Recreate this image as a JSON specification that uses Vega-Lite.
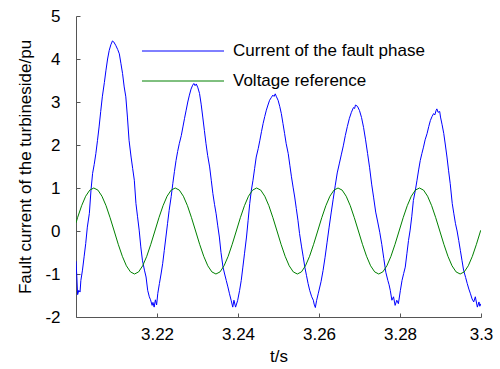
{
"$schema": "https://vega.github.io/schema/vega-lite/v6.json",
"width": 405, "height": 301,
"autosize": "none",
"padding": {"left": 76, "top": 16, "right": 19, "bottom": 52},
"background": "white",
"config": {"view": {"stroke": null}, "font": "Liberation Sans"},
"data": {"values": [
{"s":"C","t":3.2000,"v":-0.70},{"s":"C","t":3.2002,"v":-1.05},{"s":"C","t":3.2004,"v":-1.48},{"s":"C","t":3.2007,"v":-1.38},{"s":"C","t":3.2010,"v":-1.42},{"s":"C","t":3.2012,"v":-1.15},{"s":"C","t":3.2016,"v":-0.91},{"s":"C","t":3.2020,"v":-0.60},{"s":"C","t":3.2024,"v":-0.29},{"s":"C","t":3.2028,"v":0.09},{"s":"C","t":3.2033,"v":0.41},{"s":"C","t":3.2037,"v":0.95},{"s":"C","t":3.2041,"v":1.34},{"s":"C","t":3.2045,"v":1.55},{"s":"C","t":3.2049,"v":1.80},{"s":"C","t":3.2053,"v":2.10},{"s":"C","t":3.2057,"v":2.42},{"s":"C","t":3.2061,"v":2.78},{"s":"C","t":3.2065,"v":3.12},{"s":"C","t":3.2070,"v":3.45},{"s":"C","t":3.2074,"v":3.74},{"s":"C","t":3.2078,"v":4.00},{"s":"C","t":3.2082,"v":4.20},{"s":"C","t":3.2086,"v":4.33},{"s":"C","t":3.2090,"v":4.42},{"s":"C","t":3.2093,"v":4.40},
{"s":"C","t":3.2098,"v":4.32},{"s":"C","t":3.2103,"v":4.22},{"s":"C","t":3.2107,"v":4.12},{"s":"C","t":3.2111,"v":3.89},{"s":"C","t":3.2115,"v":3.66},{"s":"C","t":3.2119,"v":3.35},{"s":"C","t":3.2123,"v":3.12},{"s":"C","t":3.2127,"v":2.65},{"s":"C","t":3.2131,"v":2.11},{"s":"C","t":3.2136,"v":1.72},{"s":"C","t":3.2140,"v":1.45},{"s":"C","t":3.2144,"v":1.18},{"s":"C","t":3.2148,"v":0.64},{"s":"C","t":3.2152,"v":0.33},{"s":"C","t":3.2156,"v":0.02},{"s":"C","t":3.2160,"v":-0.37},{"s":"C","t":3.2164,"v":-0.68},{"s":"C","t":3.2169,"v":-0.91},{"s":"C","t":3.2173,"v":-1.07},{"s":"C","t":3.2177,"v":-1.38},{"s":"C","t":3.2181,"v":-1.53},{"s":"C","t":3.2184,"v":-1.60},{"s":"C","t":3.2188,"v":-1.73},{"s":"C","t":3.2190,"v":-1.66},{"s":"C","t":3.2193,"v":-1.77},{"s":"C","t":3.2196,"v":-1.60},{"s":"C","t":3.2199,"v":-1.72},{"s":"C","t":3.2202,"v":-1.45},
{"s":"C","t":3.2206,"v":-1.22},{"s":"C","t":3.2210,"v":-1.00},{"s":"C","t":3.2214,"v":-0.76},{"s":"C","t":3.2218,"v":-0.45},{"s":"C","t":3.2222,"v":-0.14},{"s":"C","t":3.2226,"v":0.17},{"s":"C","t":3.2230,"v":0.48},{"s":"C","t":3.2235,"v":0.80},{"s":"C","t":3.2239,"v":1.10},{"s":"C","t":3.2243,"v":1.38},{"s":"C","t":3.2247,"v":1.64},{"s":"C","t":3.2251,"v":1.85},{"s":"C","t":3.2255,"v":2.03},{"s":"C","t":3.2260,"v":2.22},{"s":"C","t":3.2264,"v":2.42},{"s":"C","t":3.2268,"v":2.62},{"s":"C","t":3.2272,"v":2.81},{"s":"C","t":3.2276,"v":3.00},{"s":"C","t":3.2280,"v":3.16},{"s":"C","t":3.2284,"v":3.30},{"s":"C","t":3.2288,"v":3.39},{"s":"C","t":3.2291,"v":3.43},{"s":"C","t":3.2294,"v":3.38},{"s":"C","t":3.2297,"v":3.42},{"s":"C","t":3.2301,"v":3.33},
{"s":"C","t":3.2305,"v":3.20},{"s":"C","t":3.2309,"v":2.95},{"s":"C","t":3.2313,"v":2.65},{"s":"C","t":3.2317,"v":2.34},{"s":"C","t":3.2321,"v":2.03},{"s":"C","t":3.2325,"v":1.76},{"s":"C","t":3.2330,"v":1.49},{"s":"C","t":3.2334,"v":1.18},{"s":"C","t":3.2338,"v":0.87},{"s":"C","t":3.2342,"v":0.62},{"s":"C","t":3.2346,"v":0.40},{"s":"C","t":3.2350,"v":0.12},{"s":"C","t":3.2354,"v":-0.14},{"s":"C","t":3.2358,"v":-0.50},{"s":"C","t":3.2363,"v":-0.84},{"s":"C","t":3.2367,"v":-1.00},{"s":"C","t":3.2371,"v":-1.15},{"s":"C","t":3.2375,"v":-1.30},{"s":"C","t":3.2379,"v":-1.46},{"s":"C","t":3.2383,"v":-1.61},{"s":"C","t":3.2387,"v":-1.77},{"s":"C","t":3.2390,"v":-1.61},{"s":"C","t":3.2394,"v":-1.77},{"s":"C","t":3.2399,"v":-1.62},
{"s":"C","t":3.2404,"v":-1.38},{"s":"C","t":3.2408,"v":-1.15},{"s":"C","t":3.2412,"v":-0.84},{"s":"C","t":3.2416,"v":-0.53},{"s":"C","t":3.2421,"v":-0.14},{"s":"C","t":3.2425,"v":0.25},{"s":"C","t":3.2429,"v":0.64},{"s":"C","t":3.2433,"v":0.95},{"s":"C","t":3.2437,"v":1.18},{"s":"C","t":3.2441,"v":1.45},{"s":"C","t":3.2445,"v":1.72},{"s":"C","t":3.2450,"v":1.92},{"s":"C","t":3.2454,"v":2.11},{"s":"C","t":3.2458,"v":2.31},{"s":"C","t":3.2462,"v":2.50},{"s":"C","t":3.2466,"v":2.66},{"s":"C","t":3.2470,"v":2.81},{"s":"C","t":3.2474,"v":2.93},{"s":"C","t":3.2478,"v":3.04},{"s":"C","t":3.2482,"v":3.10},{"s":"C","t":3.2486,"v":3.16},{"s":"C","t":3.2489,"v":3.13},{"s":"C","t":3.2492,"v":3.19},{"s":"C","t":3.2495,"v":3.12},{"s":"C","t":3.2499,"v":3.04},
{"s":"C","t":3.2503,"v":2.90},{"s":"C","t":3.2507,"v":2.73},{"s":"C","t":3.2511,"v":2.50},{"s":"C","t":3.2515,"v":2.27},{"s":"C","t":3.2519,"v":2.03},{"s":"C","t":3.2524,"v":1.80},{"s":"C","t":3.2528,"v":1.53},{"s":"C","t":3.2532,"v":1.26},{"s":"C","t":3.2536,"v":1.02},{"s":"C","t":3.2540,"v":0.79},{"s":"C","t":3.2544,"v":0.52},{"s":"C","t":3.2548,"v":0.25},{"s":"C","t":3.2552,"v":-0.06},{"s":"C","t":3.2557,"v":-0.37},{"s":"C","t":3.2561,"v":-0.60},{"s":"C","t":3.2565,"v":-0.84},{"s":"C","t":3.2569,"v":-1.03},{"s":"C","t":3.2573,"v":-1.22},{"s":"C","t":3.2577,"v":-1.38},{"s":"C","t":3.2582,"v":-1.53},{"s":"C","t":3.2586,"v":-1.61},{"s":"C","t":3.2588,"v":-1.70},{"s":"C","t":3.2591,"v":-1.78},{"s":"C","t":3.2594,"v":-1.62},{"s":"C","t":3.2598,"v":-1.46},
{"s":"C","t":3.2605,"v":-1.18},{"s":"C","t":3.2610,"v":-0.92},{"s":"C","t":3.2615,"v":-0.61},{"s":"C","t":3.2620,"v":-0.26},{"s":"C","t":3.2625,"v":0.09},{"s":"C","t":3.2630,"v":0.42},{"s":"C","t":3.2635,"v":0.74},{"s":"C","t":3.2640,"v":1.05},{"s":"C","t":3.2645,"v":1.35},{"s":"C","t":3.2650,"v":1.56},{"s":"C","t":3.2655,"v":1.77},{"s":"C","t":3.2660,"v":1.98},{"s":"C","t":3.2665,"v":2.22},{"s":"C","t":3.2670,"v":2.43},{"s":"C","t":3.2675,"v":2.62},{"s":"C","t":3.2680,"v":2.76},{"s":"C","t":3.2685,"v":2.87},{"s":"C","t":3.2688,"v":2.85},{"s":"C","t":3.2690,"v":2.93},{"s":"C","t":3.2695,"v":2.90},
{"s":"C","t":3.2700,"v":2.80},{"s":"C","t":3.2705,"v":2.64},{"s":"C","t":3.2710,"v":2.41},{"s":"C","t":3.2715,"v":2.12},{"s":"C","t":3.2720,"v":1.80},{"s":"C","t":3.2725,"v":1.47},{"s":"C","t":3.2730,"v":1.09},{"s":"C","t":3.2735,"v":0.77},{"s":"C","t":3.2740,"v":0.44},{"s":"C","t":3.2745,"v":0.21},{"s":"C","t":3.2750,"v":-0.03},{"s":"C","t":3.2755,"v":-0.31},{"s":"C","t":3.2760,"v":-0.64},{"s":"C","t":3.2765,"v":-0.96},{"s":"C","t":3.2770,"v":-1.15},{"s":"C","t":3.2773,"v":-1.25},{"s":"C","t":3.2776,"v":-1.38},{"s":"C","t":3.2780,"v":-1.61},{"s":"C","t":3.2784,"v":-1.53},{"s":"C","t":3.2788,"v":-1.73},{"s":"C","t":3.2792,"v":-1.61},{"s":"C","t":3.2796,"v":-1.69},{"s":"C","t":3.2801,"v":-1.38},
{"s":"C","t":3.2805,"v":-1.15},{"s":"C","t":3.2809,"v":-0.99},{"s":"C","t":3.2813,"v":-0.84},{"s":"C","t":3.2817,"v":-0.53},{"s":"C","t":3.2821,"v":-0.22},{"s":"C","t":3.2825,"v":0.02},{"s":"C","t":3.2829,"v":0.33},{"s":"C","t":3.2833,"v":0.71},{"s":"C","t":3.2838,"v":0.95},{"s":"C","t":3.2842,"v":1.18},{"s":"C","t":3.2846,"v":1.42},{"s":"C","t":3.2850,"v":1.64},{"s":"C","t":3.2854,"v":1.80},{"s":"C","t":3.2858,"v":1.95},{"s":"C","t":3.2862,"v":2.12},{"s":"C","t":3.2867,"v":2.27},{"s":"C","t":3.2871,"v":2.43},{"s":"C","t":3.2875,"v":2.57},{"s":"C","t":3.2879,"v":2.66},{"s":"C","t":3.2883,"v":2.73},{"s":"C","t":3.2886,"v":2.70},{"s":"C","t":3.2889,"v":2.80},{"s":"C","t":3.2891,"v":2.84},{"s":"C","t":3.2894,"v":2.76},{"s":"C","t":3.2898,"v":2.78},{"s":"C","t":3.2900,"v":2.65},
{"s":"C","t":3.2904,"v":2.47},{"s":"C","t":3.2908,"v":2.27},{"s":"C","t":3.2912,"v":2.00},{"s":"C","t":3.2916,"v":1.72},{"s":"C","t":3.2920,"v":1.40},{"s":"C","t":3.2924,"v":1.10},{"s":"C","t":3.2929,"v":0.64},{"s":"C","t":3.2933,"v":0.40},{"s":"C","t":3.2937,"v":0.17},{"s":"C","t":3.2941,"v":0.00},{"s":"C","t":3.2945,"v":-0.22},{"s":"C","t":3.2949,"v":-0.45},{"s":"C","t":3.2953,"v":-0.68},{"s":"C","t":3.2957,"v":-0.91},{"s":"C","t":3.2962,"v":-1.08},{"s":"C","t":3.2966,"v":-1.22},{"s":"C","t":3.2970,"v":-1.35},{"s":"C","t":3.2974,"v":-1.46},{"s":"C","t":3.2978,"v":-1.58},{"s":"C","t":3.2982,"v":-1.65},{"s":"C","t":3.2986,"v":-1.53},{"s":"C","t":3.2991,"v":-1.77},{"s":"C","t":3.2995,"v":-1.65},{"s":"C","t":3.2997,"v":-1.75},{"s":"C","t":3.3000,"v":-1.69},
{"s":"V","t":3.20000,"v":0.19},{"s":"V","t":3.20038,"v":0.309},{"s":"V","t":3.20139,"v":0.588},{"s":"V","t":3.20239,"v":0.809},{"s":"V","t":3.20340,"v":0.951},
{"s":"V","t":3.20440,"v":1},{"s":"V","t":3.20541,"v":0.951},{"s":"V","t":3.20641,"v":0.809},{"s":"V","t":3.20742,"v":0.588},{"s":"V","t":3.20842,"v":0.309},{"s":"V","t":3.20943,"v":0},{"s":"V","t":3.21043,"v":-0.309},{"s":"V","t":3.21144,"v":-0.588},{"s":"V","t":3.21244,"v":-0.809},{"s":"V","t":3.21345,"v":-0.951},{"s":"V","t":3.21445,"v":-1},{"s":"V","t":3.21546,"v":-0.951},{"s":"V","t":3.21646,"v":-0.809},{"s":"V","t":3.21747,"v":-0.588},{"s":"V","t":3.21847,"v":-0.309},{"s":"V","t":3.21948,"v":0},{"s":"V","t":3.22048,"v":0.309},{"s":"V","t":3.22149,"v":0.588},{"s":"V","t":3.22249,"v":0.809},{"s":"V","t":3.22350,"v":0.951},
{"s":"V","t":3.22450,"v":1},{"s":"V","t":3.22551,"v":0.951},{"s":"V","t":3.22651,"v":0.809},{"s":"V","t":3.22752,"v":0.588},{"s":"V","t":3.22852,"v":0.309},{"s":"V","t":3.22953,"v":0},{"s":"V","t":3.23053,"v":-0.309},{"s":"V","t":3.23154,"v":-0.588},{"s":"V","t":3.23254,"v":-0.809},{"s":"V","t":3.23355,"v":-0.951},{"s":"V","t":3.23455,"v":-1},{"s":"V","t":3.23556,"v":-0.951},{"s":"V","t":3.23656,"v":-0.809},{"s":"V","t":3.23757,"v":-0.588},{"s":"V","t":3.23857,"v":-0.309},{"s":"V","t":3.23958,"v":0},{"s":"V","t":3.24058,"v":0.309},{"s":"V","t":3.24159,"v":0.588},{"s":"V","t":3.24259,"v":0.809},{"s":"V","t":3.24360,"v":0.951},
{"s":"V","t":3.24460,"v":1},{"s":"V","t":3.24561,"v":0.951},{"s":"V","t":3.24661,"v":0.809},{"s":"V","t":3.24762,"v":0.588},{"s":"V","t":3.24862,"v":0.309},{"s":"V","t":3.24963,"v":0},{"s":"V","t":3.25063,"v":-0.309},{"s":"V","t":3.25164,"v":-0.588},{"s":"V","t":3.25264,"v":-0.809},{"s":"V","t":3.25365,"v":-0.951},{"s":"V","t":3.25465,"v":-1},{"s":"V","t":3.25566,"v":-0.951},{"s":"V","t":3.25666,"v":-0.809},{"s":"V","t":3.25767,"v":-0.588},{"s":"V","t":3.25867,"v":-0.309},{"s":"V","t":3.25968,"v":0},{"s":"V","t":3.26068,"v":0.309},{"s":"V","t":3.26169,"v":0.588},{"s":"V","t":3.26269,"v":0.809},{"s":"V","t":3.26370,"v":0.951},
{"s":"V","t":3.26470,"v":1},{"s":"V","t":3.26571,"v":0.951},{"s":"V","t":3.26671,"v":0.809},{"s":"V","t":3.26772,"v":0.588},{"s":"V","t":3.26872,"v":0.309},{"s":"V","t":3.26973,"v":0},{"s":"V","t":3.27073,"v":-0.309},{"s":"V","t":3.27174,"v":-0.588},{"s":"V","t":3.27274,"v":-0.809},{"s":"V","t":3.27375,"v":-0.951},{"s":"V","t":3.27475,"v":-1},{"s":"V","t":3.27576,"v":-0.951},{"s":"V","t":3.27676,"v":-0.809},{"s":"V","t":3.27777,"v":-0.588},{"s":"V","t":3.27877,"v":-0.309},{"s":"V","t":3.27978,"v":0},{"s":"V","t":3.28078,"v":0.309},{"s":"V","t":3.28179,"v":0.588},{"s":"V","t":3.28279,"v":0.809},{"s":"V","t":3.28380,"v":0.951},
{"s":"V","t":3.28480,"v":1},{"s":"V","t":3.28581,"v":0.951},{"s":"V","t":3.28681,"v":0.809},{"s":"V","t":3.28782,"v":0.588},{"s":"V","t":3.28882,"v":0.309},{"s":"V","t":3.28983,"v":0},{"s":"V","t":3.29083,"v":-0.309},{"s":"V","t":3.29184,"v":-0.588},{"s":"V","t":3.29284,"v":-0.809},{"s":"V","t":3.29385,"v":-0.951},{"s":"V","t":3.29485,"v":-1},{"s":"V","t":3.29586,"v":-0.951},{"s":"V","t":3.29686,"v":-0.809},{"s":"V","t":3.29787,"v":-0.588},{"s":"V","t":3.29887,"v":-0.309},{"s":"V","t":3.29988,"v":0},{"s":"V","t":3.30000,"v":0.02}
]},
"mark": {"type": "line", "strokeWidth": 1, "clip": true},
"encoding": {
"x": {"field": "t", "type": "quantitative",
 "scale": {"domain": [3.2, 3.3], "nice": false, "zero": false},
 "axis": {"title": "t/s", "values": [3.22, 3.24, 3.26, 3.28, 3.3], "format": "~g", "grid": false,
  "tickSize": -4, "labelPadding": 13, "labelFontSize": 17, "labelColor": "#000", "domainColor": "#555", "tickColor": "#555",
  "titleFontSize": 17, "titleFontWeight": "normal", "titleColor": "#000", "titlePadding": 6, "labelFlush": false}},
"y": {"field": "v", "type": "quantitative",
 "scale": {"domain": [-2, 5], "nice": false, "zero": false},
 "axis": {"title": "Fault current of the turbineside/pu", "values": [-2, -1, 0, 1, 2, 3, 4, 5], "labelExpr": "datum.value < 0 ? '-' + abs(datum.value) : '' + datum.value", "grid": false,
  "tickSize": -4, "labelPadding": 20, "labelFontSize": 17, "labelColor": "#000", "domainColor": "#555", "tickColor": "#555",
  "titleFontSize": 17, "titleFontWeight": "normal", "titleColor": "#000", "titlePadding": 10, "labelFlush": false}},
"stroke": {"field": "s", "type": "nominal",
  "scale": {"domain": ["C", "V"], "range": ["#0000ff", "#008000"]},
  "legend": {"orient": "none", "legendX": 98, "legendY": 26, "title": null, "padding": 0, "symbolType": "M-5,0H5", "symbolSize": 269, "symbolStrokeWidth": 1, "labelFontSize": 17, "labelColor": "#000", "labelOffset": 41, "rowPadding": 13, "labelLimit": 400,
   "labelExpr": "datum.value == 'C' ? 'Current of the fault phase' : 'Voltage reference'"}}
}
}
